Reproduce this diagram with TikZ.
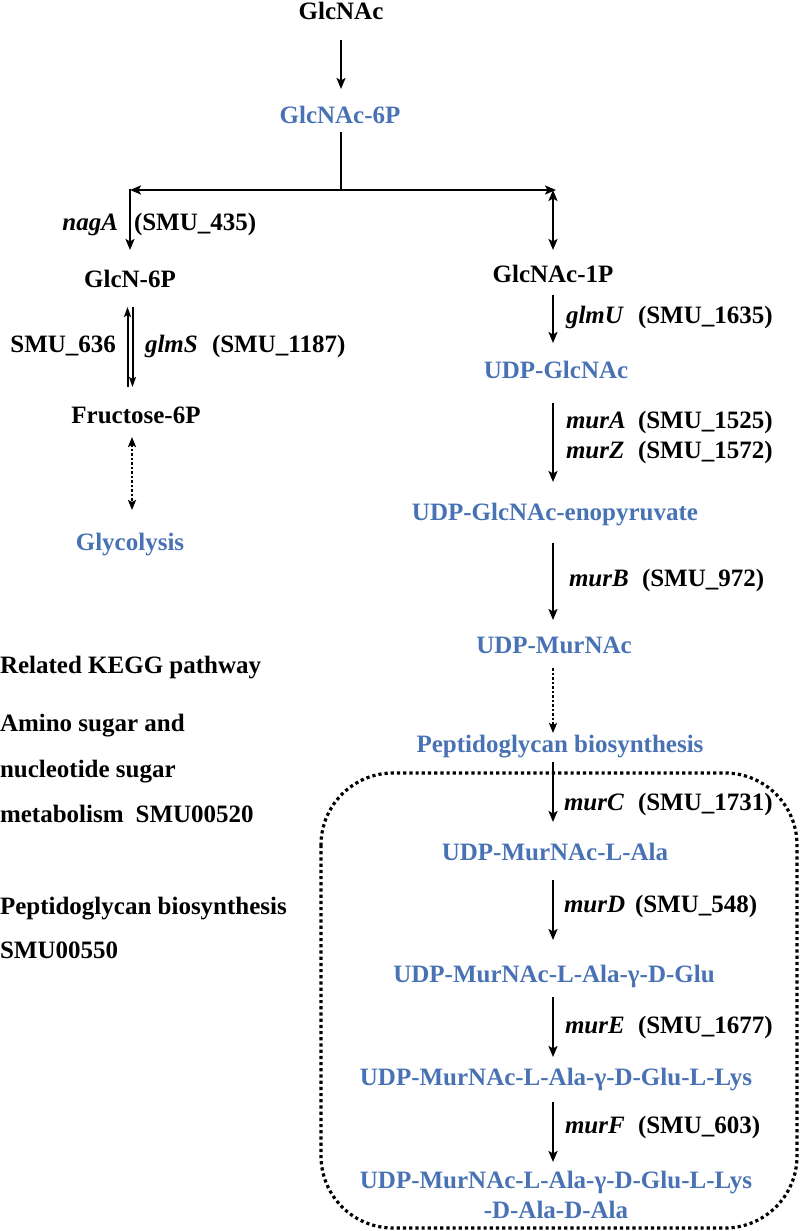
\documentclass[tikz,border=0pt]{standalone}
\usepackage{fontspec}
\setmainfont{Liberation Serif}
\usetikzlibrary{arrows.meta}
\definecolor{pathblue}{RGB}{72,114,180}
\begin{document}
\begin{tikzpicture}[x=1pt,y=-1pt,
  txt/.style={font=\fontsize{25}{30}\selectfont\bfseries, inner sep=0pt, outer sep=0pt,
              text height=17pt, text depth=5pt, anchor=base},
  cmp/.style={txt},
  met/.style={txt, text=pathblue},
  lab/.style={txt, anchor=base west},
  labr/.style={txt, anchor=base east},
  ln/.style={line width=2.4pt},
  arr/.style={line width=2.4pt, -{Stealth[length=11pt,width=9pt,inset=2.5pt]}},
  arrb/.style={line width=2.4pt, {Stealth[length=11pt,width=9pt,inset=2.5pt]}-{Stealth[length=11pt,width=9pt,inset=2.5pt]}},
  thinup/.style={line width=2pt, {Stealth[length=10pt,width=7pt,inset=2pt]}-},
  thindn/.style={line width=2pt, -{Stealth[length=10pt,width=7pt,inset=2pt]}},
  dotarrb/.style={line width=2.4pt, dash pattern=on 2.5pt off 2pt,
     {Stealth[length=10pt,width=8pt,inset=2pt]}-{Stealth[length=10pt,width=8pt,inset=2pt]}},
  dotarr/.style={line width=2.4pt, dash pattern=on 2.5pt off 2pt,
     -{Stealth[length=10pt,width=8pt,inset=2pt]}},
  box/.style={line width=3.2pt, dash pattern=on 3.2pt off 3pt, rounded corners=72pt}
]
\useasboundingbox (0,0) rectangle (800,1231);

% dotted rounded box
\draw[box] (321,773) rectangle (797,1228);

% column coordinates
\coordinate (colR) at (553,0);
\coordinate (colL) at (130,0);
\coordinate (colLa) at (127.5,0);
\coordinate (colLb) at (132.5,0);
\coordinate (colD) at (132,0);

% compounds
\node[cmp] (glcnac)   at (341,20)  {GlcNAc};
\node[met] (glcnac6p) at (340,123) {GlcNAc-6P};
\node[cmp] (glcn6p)   at (130,287) {GlcN-6P};
\node[cmp] (glcnac1p) at (553,282) {GlcNAc-1P};
\node[cmp] (fruc)     at (136,423) {Fructose-6P};
\node[met] (glyc)     at (130,550) {Glycolysis};
\node[met] (udpglc)   at (556,378) {UDP-GlcNAc};
\node[met] (enop)     at (555,520) {UDP-GlcNAc-enopyruvate};
\node[met] (udpmur)   at (554,653) {UDP-MurNAc};
\node[met] (pg)       at (560,752) {Peptidoglycan biosynthesis};
\node[met] (ala)      at (555,860) {UDP-MurNAc-L-Ala};
\node[met] (glu)      at (554,982) {UDP-MurNAc-L-Ala-γ-D-Glu};
\node[met] (lys)      at (556,1085) {UDP-MurNAc-L-Ala-γ-D-Glu-L-Lys};
\node[font=\fontsize{25}{30}\selectfont\bfseries, text=pathblue, inner sep=0pt, align=center, anchor=north]
     (final) at (556,1171) {UDP-MurNAc-L-Ala-γ-D-Glu-L-Lys\\-D-Ala-D-Ala};

% branch coordinates
\coordinate (split) at (341,190);
\coordinate (lc) at (130,190);
\coordinate (rc) at (556,190);
\coordinate (rcv) at (553,190);

% connectors
\draw[arr, shorten <=15pt, shorten >=17pt] (glcnac.south) -- (glcnac.south |- glcnac6p.north);
\draw[ln, shorten <=4pt] (glcnac6p.south -| split) -- (split);
\draw[arr] (split) -- (lc);
\draw[arr] (split) -- (rc);
\draw[arr, shorten >=20pt] ([yshift=1pt]lc) -- (glcn6p.north -| lc);
\draw[arrb, shorten >=15pt] (rcv) -- (glcnac1p.north -| rcv);

\draw[thinup, shorten <=15pt, shorten >=19pt] (glcn6p.south -| colLa) -- (fruc.north -| colLa);
\draw[thindn, shorten <=15pt, shorten >=19pt] (glcn6p.south -| colLb) -- (fruc.north -| colLb);
\draw[dotarrb, shorten <=9pt, shorten >=23pt] (fruc.south -| colD) -- (glyc.north -| colD);

\draw[arr, shorten <=8pt, shorten >=18pt] (glcnac1p.south -| colR) -- (udpglc.north -| colR);
\draw[arr, shorten <=20pt, shorten >=21pt] (udpglc.south -| colR) -- (enop.north -| colR);
\draw[arr, shorten <=18pt, shorten >=16pt] (enop.south -| colR) -- (udpmur.north -| colR);
\draw[dotarr, shorten <=10pt, shorten >=2pt] (udpmur.south -| colR) -- (pg.north -| colR);
\draw[arr, shorten <=5pt, shorten >=21pt] (pg.south -| colR) -- (ala.north -| colR);
\draw[arr, shorten <=15pt, shorten >=25pt] (ala.south -| colR) -- (glu.north -| colR);
\draw[arr, shorten <=10pt, shorten >=11pt] (glu.south -| colR) -- (lys.north -| colR);
\draw[arr, shorten <=12pt, shorten >=9pt] (lys.south -| colR) -- (final.north -| colR);

% enzyme labels
\node[labr] (nagA) at (118,230) {\textit{nagA}};
\node[lab] (smu435) at (134,230) {(SMU\_435)};
\node[labr] (smu636) at (116,352) {SMU\_636};
\node[lab] (glmS) at (145,352) {\textit{glmS}};
\node[lab] (smu1187) at (212,352) {(SMU\_1187)};
\node[lab] (glmU) at (566,323) {\textit{glmU}};
\node[lab] (smu1635) at (638,323) {(SMU\_1635)};
\node[lab] (murA) at (566,428) {\textit{murA}};
\node[lab] (smu1525) at (638,428) {(SMU\_1525)};
\node[lab] (murZ) at (566,458) {\textit{murZ}};
\node[lab] (smu1572) at (638,458) {(SMU\_1572)};
\node[lab] (murB) at (569,586) {\textit{murB}};
\node[lab] (smu972) at (642,586) {(SMU\_972)};
\node[lab] (murC) at (564,810) {\textit{murC}};
\node[lab] (smu1731) at (638,810) {(SMU\_1731)};
\node[lab] (murD) at (564,912) {\textit{murD}};
\node[lab] (smu548) at (635,912) {(SMU\_548)};
\node[lab] (murE) at (565,1033) {\textit{murE}};
\node[lab] (smu1677) at (638,1033) {(SMU\_1677)};
\node[lab] (murF) at (565,1133) {\textit{murF}};
\node[lab] (smu603) at (638,1133) {(SMU\_603)};

% KEGG text
\node[lab] (kegg) at (0,673) {Related KEGG pathway};
\node[lab] (amino) at (0,731) {Amino sugar and};
\node[lab] (nucl) at (0,777) {nucleotide sugar};
\node[lab] (meta) at (0,822) {metabolism\hspace{12pt}SMU00520};
\node[lab] (pgb) at (0,914) {Peptidoglycan biosynthesis};
\node[lab] (smu550) at (0,958) {SMU00550};
\end{tikzpicture}
\end{document}
